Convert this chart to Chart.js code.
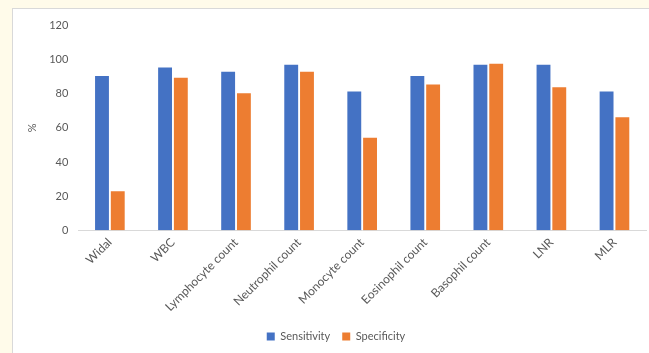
<!DOCTYPE html>
<html>
<head>
<meta charset="utf-8">
<script src="https://cdn.jsdelivr.net/npm/chart.js"></script>
<style>
  html, body { margin: 0; padding: 0; background: #fffbea; overflow: hidden; width: 649px; height: 353px; }
  #panel { position: absolute; left: 12px; top: 8px; width: 662px; height: 360px; background: #fff; border: 1px solid #d9d9d9; box-sizing: border-box; }
  #chart { position: absolute; left: 0; top: 0; }
</style>
</head>
<body>
<div id="panel"><canvas id="chart" width="662" height="345"></canvas></div>
<script>
// Diagnostic test performance
const categories = ['Widal', 'WBC', 'Lymphocyte count', 'Neutrophil count', 'Monocyte count',
    'Eosinophil count', 'Basophil count', 'LNR', 'MLR'];
const sensitivity = [90.5, 95.4, 92.9, 97.1, 81.4, 90.5, 97.1, 97.1, 81.4];
const specificity = [22.9, 89.4, 80.3, 92.9, 54.2, 85.5, 97.7, 83.8, 66.2];
const yTicks = [0, 20, 40, 60, 80, 100, 120];

const txt = '#595959';
const fnt = { family: 'Lato, "Open Sans", sans-serif', size: 11 };
const xFnt = { family: 'Lato, "Open Sans", sans-serif', size: 12 };

const ctx = document.getElementById('chart').getContext('2d');
new Chart(ctx, {
    type: 'bar',
    data: {
        labels: categories,
        datasets: [{
            label: 'Sensitivity',
            data: sensitivity,
            backgroundColor: '#4472C4'
        }, {
            label: 'Specificity',
            data: specificity,
            backgroundColor: '#ED7D31'
        }]
    },
    options: {
        responsive: false,
        animation: false,
        categoryPercentage: 0.5,
        barPercentage: 0.88,
        layout: { autoPadding: false, padding: { left: 13, right: 29, top: 10, bottom: 2 } },
        plugins: {
            tooltip: { enabled: false },
            legend: {
                position: 'bottom',
                labels: { boxWidth: 8, boxHeight: 8, color: txt, font: fnt, padding: 12 }
            }
        },
        scales: {
            x: {
                grid: { display: false, drawTicks: false },
                border: { color: '#d9d9d9' },
                ticks: { color: txt, font: xFnt, minRotation: 45, maxRotation: 45, padding: 5 }
            },
            y: {
                min: 0,
                max: 120,
                afterBuildTicks: (axis) => { axis.ticks = yTicks.map(v => ({ value: v })); },
                grid: { display: false, drawTicks: false },
                border: { display: false },
                ticks: { color: txt, font: fnt, padding: 10 },
                title: { display: true, text: '%', color: txt, font: fnt, padding: { top: 0, bottom: 0 } }
            }
        }
    }
});
</script>
</body>
</html>
